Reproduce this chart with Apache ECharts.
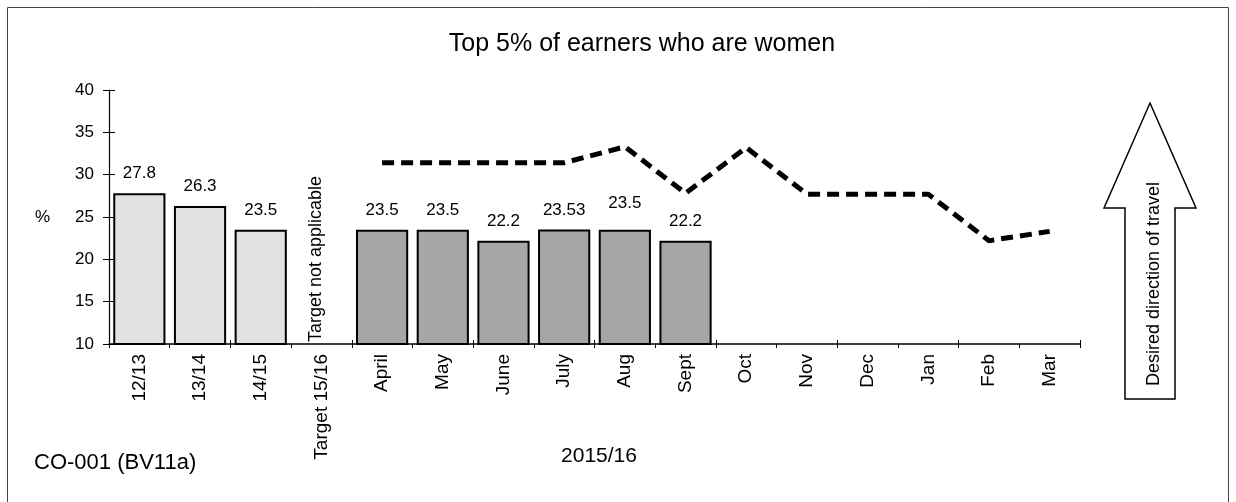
<!DOCTYPE html>
<html>
<head>
  <meta charset="utf-8" />
  <title>Top 5% of earners who are women</title>
  <script src="https://cdn.jsdelivr.net/npm/echarts@6/dist/echarts.min.js"></script>
  <style>
    html, body { margin: 0; padding: 0; background: #fff; }
    #main { width: 1236px; height: 502px; }
  </style>
</head>
<body>
  <div id="main"></div>
  <script type="text/javascript">
    var categories = ['12/13', '13/14', '14/15', 'Target 15/16', 'April', 'May', 'June', 'July', 'Aug', 'Sept', 'Oct', 'Nov', 'Dec', 'Jan', 'Feb', 'Mar'];
    // annual outturns, then monthly 2015/16 (null = no data yet)
    var yearValues = [27.8, 26.3, 23.5, null, null, null, null, null, null, null, null, null, null, null, null, null];
    var monthValues = [null, null, null, null, 23.5, 23.5, 22.2, 23.53, 23.5, 22.2, null, null, null, null, null, null];
    // dashed comparison line
    var lineValues = [null, null, null, null, 31.4, 31.4, 31.4, 31.4, 33.3, 27.8, 33.2, 27.7, 27.7, 27.7, 22.2, 23.3];
    var yTicks = { min: 10, max: 40, step: 5 };

    var FONT = '"Liberation Sans", Arial, sans-serif';
    var myChart = echarts.init(document.getElementById('main'), null, { renderer: 'canvas' });

    function barLabel() {
      return {
        show: true, position: 'top', distance: 11,
        color: '#000', fontFamily: FONT, fontSize: 17,
        formatter: function (p) { return p.value == null ? '' : String(p.value); }
      };
    }

    var monthData = monthValues.map(function (v, i) {
      if (v == null) return null;
      if (categories[i] === 'Aug') return { value: v, label: { offset: [0, -7] } };
      return v;
    });

    var option = {
      backgroundColor: '#fff',
      animation: false,
      title: [
        { text: 'Top 5% of earners who are women', left: 637, top: 27, textAlign: 'center',
          textStyle: { fontFamily: FONT, fontSize: 25, fontWeight: 'normal', color: '#000' } },
        { text: 'CO-001 (BV11a)', left: 29, top: 447,
          textStyle: { fontFamily: FONT, fontSize: 22, fontWeight: 'normal', color: '#000' } },
        { text: '2015/16', left: 594, top: 441, textAlign: 'center',
          textStyle: { fontFamily: FONT, fontSize: 21, fontWeight: 'normal', color: '#000' } }
      ],
      grid: { left: 109, right: 156, top: 90, bottom: 158, containLabel: false },
      xAxis: [{
        type: 'category',
        data: categories,
        axisLine: { lineStyle: { color: '#000', width: 1.5 } },
        axisTick: { show: true, length: 4, lineStyle: { color: '#000' } },
        axisLabel: { rotate: 90, color: '#000', fontFamily: FONT, fontSize: 19, margin: 10, interval: 0 }
      }, {
        // inner half of the crossing ticks
        type: 'category', data: categories, position: 'bottom', offset: 0,
        axisLine: { show: false },
        axisTick: { show: true, inside: true, length: 4, lineStyle: { color: '#000' } },
        axisLabel: { show: false }
      }],
      yAxis: [{
        type: 'value',
        min: yTicks.min, max: yTicks.max, interval: yTicks.step,
        name: '%', nameLocation: 'middle', nameRotate: 0, nameGap: 59,
        nameTextStyle: { color: '#000', fontFamily: FONT, fontSize: 17 },
        axisLine: { show: true, lineStyle: { color: '#000', width: 1.2 } },
        axisTick: { show: true, length: 6, lineStyle: { color: '#000' } },
        axisLabel: { color: '#000', fontFamily: FONT, fontSize: 17, margin: 15 },
        splitLine: { show: false }
      }, {
        type: 'value', position: 'left', offset: 0,
        min: yTicks.min, max: yTicks.max, interval: yTicks.step,
        axisLine: { show: false },
        axisTick: { show: true, inside: true, length: 6, lineStyle: { color: '#000' } },
        axisLabel: { show: false },
        splitLine: { show: false }
      }],
      series: [
        {
          name: 'annual', type: 'bar', stack: 'v', data: yearValues, barWidth: '86%',
          itemStyle: { color: '#e2e2e2', borderColor: '#000', borderWidth: 2 },
          label: barLabel()
        },
        {
          name: 'monthly', type: 'bar', stack: 'v', data: monthData, barWidth: '86%',
          itemStyle: { color: '#a6a6a6', borderColor: '#000', borderWidth: 2 },
          label: barLabel()
        },
        {
          name: 'line', type: 'line', data: lineValues, symbol: 'none', connectNulls: false,
          lineStyle: { color: '#000', width: 5, type: [12, 7] }
        }
      ]
    };
    myChart.setOption(option);

    // annotations placed from the axis scale
    var naPos = myChart.convertToPixel({ xAxisIndex: 0, yAxisIndex: 0 }, ['Target 15/16', 10]);
    myChart.setOption({
      graphic: [
        { type: 'rect', shape: { x: 7.5, y: 7.5, width: 1221, height: 520 },
          style: { fill: null, stroke: '#444', lineWidth: 1 }, silent: true },
        { type: 'text', x: naPos[0] - 5, y: naPos[1] - 2, rotation: Math.PI / 2,
          style: { text: 'Target not applicable', fill: '#000', font: '18px ' + FONT,
                   textAlign: 'left', textVerticalAlign: 'middle' } },
        { type: 'polygon',
          shape: { points: [[1150, 103], [1196, 208], [1175, 208], [1175, 399], [1125, 399], [1125, 208], [1104, 208]] },
          style: { fill: '#fff', stroke: '#000', lineWidth: 1.5 } },
        { type: 'text', x: 1154, y: 284, rotation: Math.PI / 2,
          style: { text: 'Desired direction of travel', fill: '#000', font: '18px ' + FONT,
                   textAlign: 'center', textVerticalAlign: 'middle' } }
      ]
    });
  </script>
</body>
</html>
